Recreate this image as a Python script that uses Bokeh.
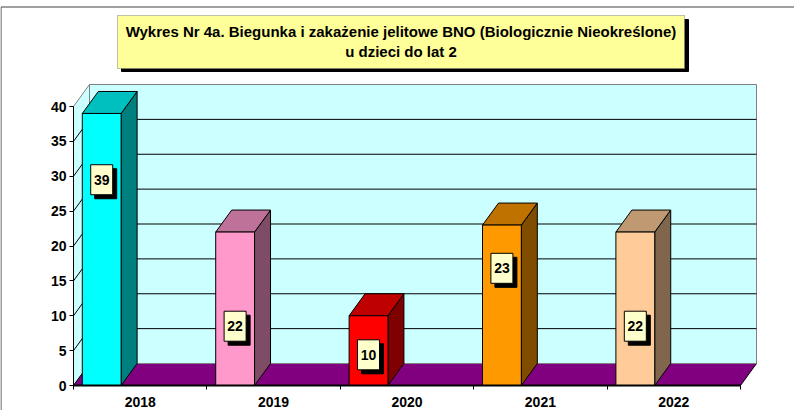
from bokeh.plotting import figure
from bokeh.models import Range1d, FixedTicker
from bokeh.core.properties import value
from bokeh.embed import file_html
from bokeh.resources import INLINE

# ---- data ----
years = ["2018", "2019", "2020", "2021", "2022"]
counts = [39, 22, 10, 23, 22]
label_pos = [29.5, 8.5, 4.4, 16.8, 8.5]      # where the data labels sit (value units)
y_ticks = [0, 5, 10, 15, 20, 25, 30, 35, 40]
title_lines = ["Wykres Nr 4a. Biegunka i zakażenie jelitowe BNO (Biologicznie Nieokreślone)",
               "u dzieci do lat 2"]

# ---- style ----
front_colors = ["#00FFFF", "#FF99CC", "#FF0000", "#FF9900", "#FFCC99"]


def shade(hexcol, f):
    r, g, b = (int(hexcol[i:i + 2], 16) for i in (1, 3, 5))
    return "#%02X%02X%02X" % (int(r * f), int(g * f), int(b * f))


top_colors = [shade(c, 0.75) for c in front_colors]
side_colors = [shade(c, 0.5) for c in front_colors]

FONT = value("Liberation Sans")

# ---- layout (page pixels) ----
PAGE_OFF = 8
W, H = 794, 410
AX_X = 81        # page x of value axis
BASE_Y = 393     # page y of zero line
CAT_W = 133.4    # px per category
V_PX = 6.975     # px per value unit


def fx(px):
    return (px - AX_X) / CAT_W


def fy(py):
    return (BASE_Y - py) / V_PX


DX = 16 / CAT_W
DY = 22 / V_PX
BL, BR = 0.066, 0.357
n = len(years)
ymax = y_ticks[-1]

p = figure(width=W, height=H,
           x_range=Range1d(fx(PAGE_OFF), fx(PAGE_OFF + W)),
           y_range=Range1d(fy(PAGE_OFF + H), fy(PAGE_OFF)),
           output_backend="svg", toolbar_location=None, min_border=0)
p.outline_line_color = None
p.grid.visible = False
p.background_fill_color = "white"
p.border_fill_color = "white"

# outer chart border
p.line([fx(8.5), fx(8.5), fx(802)], [fy(418), fy(14.5), fy(14.5)],
       line_color="#404040", line_width=1)

# walls
p.patch([0, DX, DX, 0], [0, DY, ymax + DY, ymax],
        fill_color="#CCFFFF", line_color="#808080", line_width=1)
p.quad(left=[DX], right=[n + DX], bottom=[DY], top=[ymax + DY],
       fill_color="#CCFFFF", line_color="#808080", line_width=1)

# gridlines (side wall + back wall)
gx = [[0, DX, n + DX] for v in y_ticks[1:-1]]
gy = [[v, v + DY, v + DY] for v in y_ticks[1:-1]]
p.multi_line(gx, gy, line_color="#000000", line_width=1)

# floor
p.patch([0, n, n + DX, DX], [0, 0, DY, DY],
        fill_color="#800080", line_color="#000000", line_width=1)
p.line([DX, n + DX], [DY, DY], line_color="#808080", line_width=1)

# bars
fx_front, fy_front, fx_top, fy_top, fx_side, fy_side = [], [], [], [], [], []
for i, v in enumerate(counts):
    l, r = i + BL, i + BR
    fx_front.append([l, r, r, l]); fy_front.append([0, 0, v, v])
    fx_top.append([l, r, r + DX, l + DX]); fy_top.append([v, v, v + DY, v + DY])
    fx_side.append([r, r + DX, r + DX, r]); fy_side.append([0, DY, v + DY, v])
p.patches(fx_side, fy_side, fill_color=side_colors, line_color="black", line_width=1)
p.patches(fx_top, fy_top, fill_color=top_colors, line_color="black", line_width=1)
p.patches(fx_front, fy_front, fill_color=front_colors, line_color="black", line_width=1)

# data labels
lx = [i + (BL + BR) / 2 for i in range(n)]
p.rect([x + 4 / CAT_W for x in lx], [y - 4 / V_PX for y in label_pos],
       width=22, height=30, width_units="screen", height_units="screen",
       fill_color="black", line_color="black")
p.rect(lx, label_pos, width=22, height=30, width_units="screen", height_units="screen",
       fill_color="#FFFFCC", line_color="black", line_width=1)
p.text(lx, label_pos, text=[str(c) for c in counts], text_align="center",
       text_baseline="middle", text_font=FONT, text_font_style="bold",
       text_font_size="14px", text_color="black")

# title box
p.quad(left=[fx(129)], right=[fx(696)], top=[fy(27)], bottom=[fy(79)],
       fill_color="black", line_color="black")
p.quad(left=[fx(125)], right=[fx(692)], top=[fy(23)], bottom=[fy(76)],
       fill_color="#FFFF99", line_color="#808080", line_dash="1 1", line_width=1)
p.text([fx(408.5), fx(408.5)], [fy(39), fy(59)], text=title_lines,
       text_align="center", text_baseline="middle", text_font=FONT,
       text_font_style="bold", text_font_size="15px", text_color="black")

# axes
yax = p.yaxis[0]
yax.fixed_location = 0
yax.bounds = (0, ymax)
yax.ticker = FixedTicker(ticks=y_ticks)
yax.axis_line_color = "black"
yax.major_tick_out = 4
yax.major_tick_in = 0
yax.minor_tick_line_color = None
yax.major_label_standoff = 3
yax.major_label_text_font = "Liberation Sans"
yax.major_label_text_font_style = "bold"
yax.major_label_text_font_size = "14px"
yax.major_label_text_color = "black"

xax = p.xaxis[0]
xax.fixed_location = 0
xax.bounds = (0, n)
centers = [i + 0.5 for i in range(n)]
xax.ticker = FixedTicker(ticks=centers, minor_ticks=list(range(n + 1)))
xax.major_label_overrides = {c: y for c, y in zip(centers, years)}
xax.axis_line_color = "black"
xax.axis_line_width = 2
xax.major_tick_line_color = None
xax.major_tick_out = 0
xax.major_tick_in = 0
xax.minor_tick_out = 4
xax.minor_tick_in = 0
xax.minor_tick_line_color = "black"
xax.major_label_standoff = 7
xax.major_label_text_font = "Liberation Sans"
xax.major_label_text_font_style = "bold"
xax.major_label_text_font_size = "14px"
xax.major_label_text_color = "black"

open("out.html", "w").write(file_html(p, INLINE))
